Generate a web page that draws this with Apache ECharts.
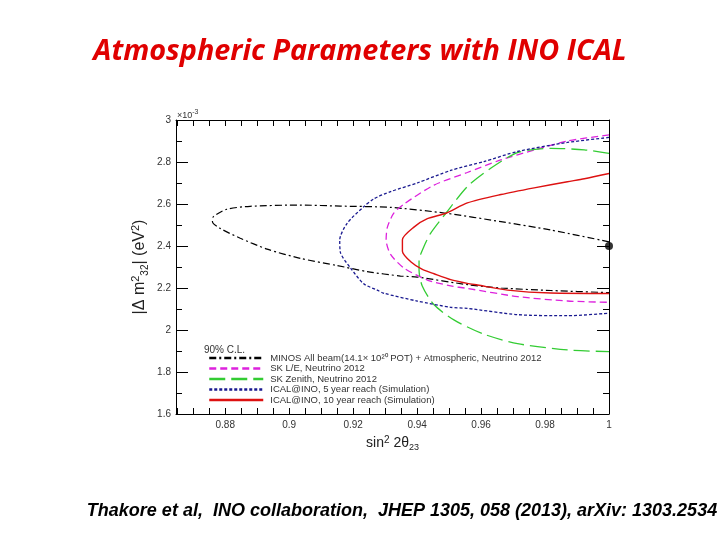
<!DOCTYPE html>
<html><head><meta charset="utf-8">
<script src="https://cdn.jsdelivr.net/npm/echarts@6/dist/echarts.min.js"></script>
<style>html,body{margin:0;padding:0;background:#fff}#c{width:720px;height:540px}</style>
</head><body><div id="c"></div>
<script>
// ---- data (x = sin^2 2theta23, y = |dm^2_32| in 1e-3 eV^2) ----
const seriesNames = [
  'MINOS All beam(14.1× 10²⁰ POT) + Atmospheric, Neutrino 2012',
  'SK L/E, Neutrino 2012',
  'SK Zenith, Neutrino 2012',
  'ICAL@INO, 5 year reach (Simulation)',
  'ICAL@INO, 10 year reach (Simulation)'
];
const minos = [[1.0,2.42],[0.9818,2.476],[0.9662,2.516],[0.949,2.556],[0.9317,2.584],[0.916,2.59],[0.9035,2.595],[0.8878,2.589],[0.8805,2.575],[0.8763,2.54],[0.876,2.516],[0.8784,2.484],[0.8847,2.437],[0.8931,2.385],[0.9035,2.341],[0.915,2.307],[0.9244,2.278],[0.9348,2.257],[0.94,2.252],[0.9557,2.216],[0.9662,2.2],[0.9818,2.188],[1.0,2.178]];
const skLE = [[1.0,2.929],[0.987,2.9],[0.9766,2.857],[0.9662,2.81],[0.9557,2.75],[0.9453,2.69],[0.9359,2.6],[0.9327,2.556],[0.9307,2.49],[0.9303,2.429],[0.9317,2.36],[0.9359,2.295],[0.9432,2.238],[0.9505,2.21],[0.9557,2.198],[0.9714,2.159],[0.987,2.138],[1.0,2.132]];
const skZenith = [[1.0,2.841],[0.9923,2.858],[0.9818,2.865],[0.9714,2.845],[0.963,2.77],[0.9557,2.683],[0.949,2.556],[0.9442,2.46],[0.9421,2.397],[0.9406,2.33],[0.9406,2.286],[0.9416,2.21],[0.9453,2.12],[0.9515,2.048],[0.9609,1.98],[0.9714,1.935],[0.987,1.905],[1.0,1.897]];
const ical5 = [[1.0,2.917],[0.987,2.893],[0.9714,2.85],[0.9609,2.802],[0.9505,2.76],[0.94,2.70],[0.9317,2.659],[0.9265,2.625],[0.9233,2.587],[0.9181,2.508],[0.9158,2.429],[0.916,2.37],[0.9192,2.295],[0.9233,2.22],[0.9275,2.19],[0.9296,2.175],[0.94,2.138],[0.9505,2.108],[0.9557,2.103],[0.9714,2.073],[0.987,2.068],[1.0,2.08]];
const ical10 = [[1.0,2.745],[0.9923,2.72],[0.987,2.706],[0.9766,2.677],[0.9662,2.645],[0.9557,2.605],[0.949,2.556],[0.9432,2.53],[0.939,2.49],[0.9354,2.43],[0.9354,2.375],[0.938,2.325],[0.9415,2.29],[0.9453,2.268],[0.9505,2.24],[0.9557,2.222],[0.9589,2.214],[0.9683,2.19],[0.9818,2.176],[1.0,2.174]];
const bestFit = [[1.0,2.40]];
const xTickLabels = [0.88,0.9,0.92,0.94,0.96,0.98,1];
const xMinorTicks = [0.865,0.87,0.875,0.88,0.885,0.89,0.895,0.9,0.905,0.91,0.915,0.92,0.925,0.93,0.935,0.94,0.945,0.95,0.955,0.96,0.965,0.97,0.975,0.98,0.985,0.99,0.995,1];

const chart = echarts.init(document.getElementById('c'));
const tickStyle = {color:'#000', width:1};
const lab = {fontFamily:'Liberation Sans, Arial, sans-serif', fontSize:10, color:'#333'};
function xAxisDef(pos, showLabel){
  return {type:'value', position:pos, min:0.8646, max:1.0,
    axisLine:{show:true, onZero:false, lineStyle:{color:'#000', width:1}},
    axisTick:{show:true, inside:true, length:6, customValues:xMinorTicks, lineStyle:tickStyle},
    axisLabel:{show:showLabel, customValues:xTickLabels, margin:6, ...lab, formatter:v=>String(+v.toFixed(2))},
    splitLine:{show:false}, minorTick:{show:false}};
}
function yAxisDef(pos, showLabel){
  return {type:'value', position:pos, min:1.6, max:3.0, interval:0.2,
    axisLine:{show:true, onZero:false, lineStyle:{color:'#000', width:1}},
    axisTick:{show:true, inside:true, length:12, lineStyle:tickStyle},
    minorTick:{show:true, splitNumber:2, length:6, lineStyle:{color:'#000', width:1}},
    axisLabel:{show:showLabel, margin:5, ...lab, formatter:v=>String(+v.toFixed(2))},
    splitLine:{show:false}};
}
const xa0 = xAxisDef('bottom', true);
xa0.name = 'sin{sup|2} 2θ{sub|23}';
xa0.nameLocation = 'middle'; xa0.nameGap = 21;
xa0.nameTextStyle = {fontFamily:'Liberation Sans, Arial, sans-serif', fontSize:14, color:'#222',
  rich:{sup:{fontSize:10, verticalAlign:'top', padding:[0,0,6,0]}, sub:{fontSize:9, padding:[8,0,0,0]}}};
const ya0 = yAxisDef('left', true);
ya0.name = '|Δ m{sup|2}{sub|32}| (eV{sup|2})';
ya0.nameLocation = 'middle'; ya0.nameGap = 26; ya0.nameRotate = 90; ya0.nameMoveOverlap = false;
ya0.nameTextStyle = {fontFamily:'Liberation Sans, Arial, sans-serif', fontSize:16, color:'#222',
  rich:{sup:{fontSize:11, padding:[0,0,8,0]}, sub:{fontSize:10, padding:[10,0,0,0]}}};

function lineSeries(name, data, color, type, width){
  return {name, type:'line', data, xAxisIndex:0, yAxisIndex:0, showSymbol:false, symbol:'none',
    smooth:0.25, lineStyle:{color, width, type}, itemStyle:{color}, z:3, silent:true};
}
chart.setOption({
  animation:false,
  title:[
    {text:'Atmospheric Parameters with INO ICAL', left:'center', top:32,
     textStyle:{fontFamily:'Open Sans, Lato, sans-serif', fontStyle:'italic', fontWeight:'bold', fontSize:28.8, color:'#e00000'}},
    {text:'Thakore et al,  INO collaboration,  JHEP 1305, 058 (2013), arXiv: 1303.2534', left:397, textAlign:'center', top:497,
     textStyle:{fontFamily:'Liberation Sans Narrow, Arial Narrow, Liberation Sans, sans-serif', fontStyle:'italic', fontWeight:'bold', fontSize:18, color:'#000'}},
    {text:'90% C.L.', left:199, top:340, textStyle:{fontFamily:'Liberation Sans, Arial, sans-serif', fontSize:10, fontWeight:'normal', color:'#333'}}
  ],
  graphic:[{type:'text', left:177, top:109, style:{text:'×10{sup|-3}', font:'9px Liberation Sans, Arial', fill:'#333',
     rich:{sup:{fontSize:7, padding:[0,0,6,0]}}}}],
  grid:{left:176, right:111, top:120, bottom:126, containLabel:false},
  xAxis:[xa0, xAxisDef('top', false)],
  yAxis:[ya0, yAxisDef('right', false)],
  legend:{orient:'vertical', left:203, top:348, itemWidth:54, itemHeight:10, itemGap:0.5,
    data:seriesNames,
    itemStyle:{color:'transparent', borderWidth:0, opacity:0},
    lineStyle:{width:2.5},
    textStyle:{fontFamily:'Liberation Sans, Arial, sans-serif', fontSize:9.5, color:'#333', lineHeight:10, padding:[0,0,0,2]}},
  series:[
    lineSeries(seriesNames[0], minos, '#000000', [7,3,2,3], 1.2),
    lineSeries(seriesNames[1], skLE, '#dd22dd', [7,4], 1.3),
    lineSeries(seriesNames[2], skZenith, '#33cc33', [16,6], 1.3),
    lineSeries(seriesNames[3], ical5, '#1a1a90', [3,2], 1.3),
    lineSeries(seriesNames[4], ical10, '#dd1111', 'solid', 1.4),
    {name:'best fit', type:'scatter', data:bestFit, symbol:'circle', symbolSize:8, itemStyle:{color:'#000'}, z:5, silent:true}
  ]
});
</script></body></html>
